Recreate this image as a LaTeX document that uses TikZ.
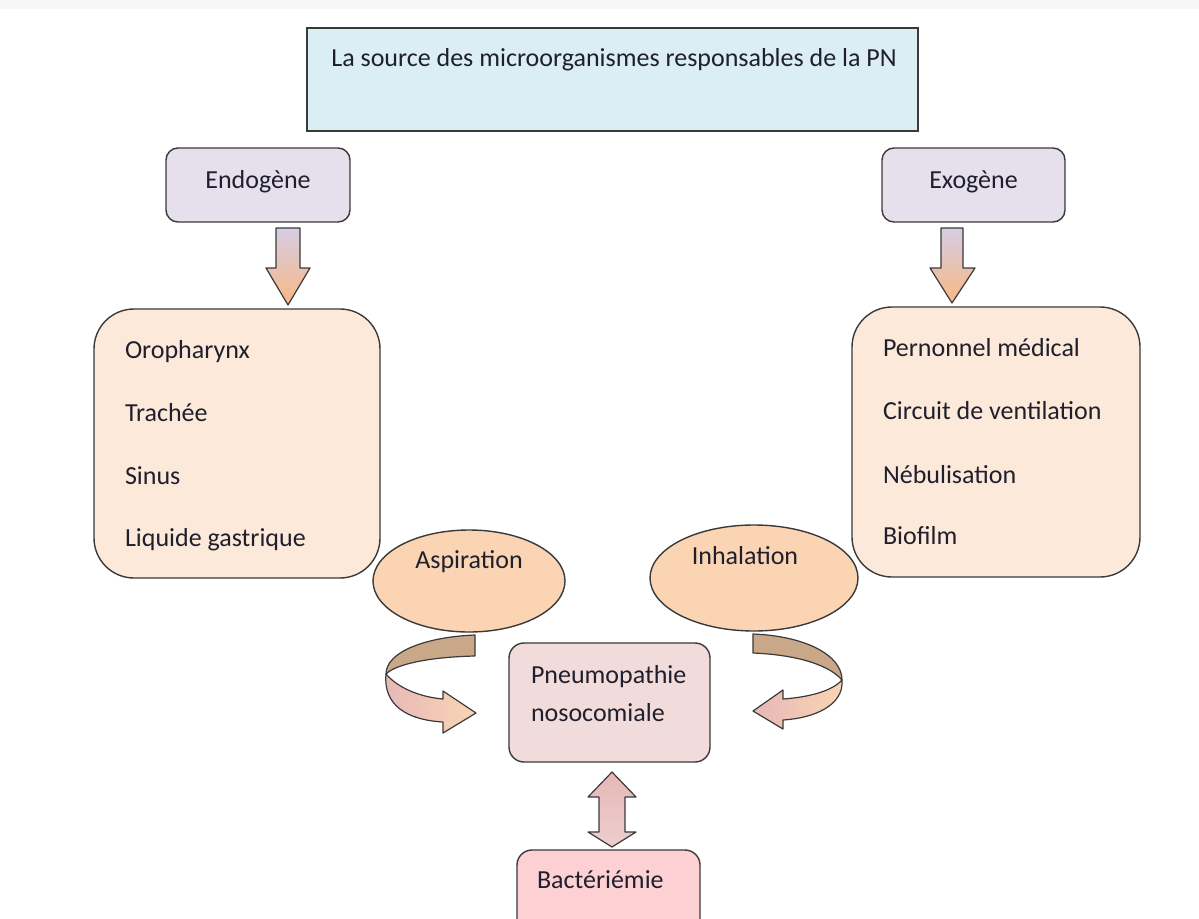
\documentclass[tikz,border=0pt]{standalone}
\usepackage{fontspec}
\setmainfont{Carlito}
\usetikzlibrary{shapes.geometric}
\definecolor{topfill}{HTML}{DAEEF3}
\definecolor{lav}{HTML}{E5E0EC}
\definecolor{peachl}{HTML}{FDE9D9}
\definecolor{peach}{HTML}{FBD4B4}
\definecolor{pinkl}{HTML}{F2DCDB}
\definecolor{pinkb}{HTML}{FDD0D3}
\definecolor{pinkar}{HTML}{E6B8B7}
\definecolor{brownar}{HTML}{C9A789}
\definecolor{orar}{HTML}{F9B884}
\definecolor{lavar}{HTML}{D6CDE3}
\definecolor{edge}{HTML}{3A3A3A}
\definecolor{ink}{HTML}{1F1F2E}
\begin{document}
\begin{tikzpicture}[x=1pt,y=-1pt,
  every node/.style={font=\fontsize{26}{30}\selectfont, text=ink, inner sep=0pt, outer sep=0pt},
  shp/.style={draw=edge, line width=1.4pt},
  sqbox/.style={shp, rectangle, fill=topfill},
  rbox/.style={shp, rectangle, rounded corners=#1},
  ell/.style={shp, ellipse, fill=peach},
  lt/.style={anchor=mid west, yshift=-5pt},
  ct/.style={anchor=mid, yshift=-5pt},
  blk/.style={draw=edge, line width=1.2pt, line join=round}
]
\useasboundingbox (0,0) rectangle (1199,918);
\fill[white] (0,0) rectangle (1199,918);
\fill[black!3] (0,0) rectangle (1199,9);
\begin{scope}
\clip (0,0) rectangle (1199,918);
% top
\node[sqbox, minimum width=611pt, minimum height=103pt] (src) at (612.5,79.5) {};
\node[ct] (srct) at (614,59) {La source des microorganismes responsables de la PN};
% endo / exo
\node[rbox=12pt, fill=lav, minimum width=184pt, minimum height=74pt] (endo) at (258,185) {};
\node[ct] (endot) at (258,181) {Endogène};
\node[rbox=12pt, fill=lav, minimum width=183pt, minimum height=74pt] (exo) at (973.5,185) {};
\node[ct] (exot) at (973.5,181) {Exogène};
% down arrows
\shade[top color=lavar, bottom color=orar, blk]
  (276,228) -- (300,228) -- (300,268) -- (310,268) -- (288,305) -- (266,268) -- (276,268) -- cycle;
\shade[top color=lavar, bottom color=orar, blk]
  (941,228) -- (963,228) -- (963,268) -- (975,268) -- (952,303) -- (930,268) -- (941,268) -- cycle;
% big boxes
\node[rbox=40pt, fill=peachl, minimum width=286pt, minimum height=269pt] (endol) at (237,443.5) {};
\node[lt] (e1) at (125,351) {Oropharynx};
\node[lt] (e2) at (125,414) {Trachée};
\node[lt] (e3) at (125,477) {Sinus};
\node[lt] (e4) at (125,539) {Liquide gastrique};
\node[rbox=40pt, fill=peachl, minimum width=288pt, minimum height=270pt] (exol) at (996,442) {};
\node[lt] (x1) at (883,349) {Pernonnel médical};
\node[lt] (x2) at (883,412) {Circuit de ventilation};
\node[lt] (x3) at (883,476) {Nébulisation};
\node[lt] (x4) at (883,537) {Biofilm};
% ellipses
\node[ell, minimum width=192pt, minimum height=102pt] (asp) at (469,581) {};
\node[ct] (aspt) at (469,561) {Aspiration};
\node[ell, minimum width=208pt, minimum height=106pt] (inh) at (754,578) {};
\node[ct] (inht) at (745,557) {Inhalation};
% pneumopathie
\node[rbox=15pt, fill=pinkl, minimum width=201pt, minimum height=119pt] (pn) at (609.5,702.5) {};
\node[lt] (pn1) at (531,676) {Pneumopathie};
\node[lt] (pn2) at (531,714) {nosocomiale};
% bacteriemie
\node[rbox=15pt, fill=pinkb, minimum width=183pt, minimum height=92pt] (bac) at (608.5,896) {};
\node[lt] (bact) at (537,881) {Bactériémie};
% double arrow
\shade[top color=pinkar, bottom color=pinkar!70, blk]
  (612,772) -- (636,797) -- (625,797) -- (625,832) -- (636,832) -- (612,847)
  -- (588,832) -- (599,832) -- (599,797) -- (588,797) -- cycle;
% curved arrow left
\fill[brownar, blk]
  (475,635) .. controls (425,637) and (386,652) .. (386,674)
  .. controls (396,664) and (430,657) .. (475,656) -- cycle;
\shade[left color=pinkar, right color=peach, blk]
  (386,674) .. controls (398,688) and (420,697) .. (443,699) -- (443,691) -- (476,713)
  -- (443,733) -- (443,722) .. controls (408,720) and (383,706) .. (386,674) -- cycle;
% curved arrow right
\fill[brownar, blk]
  (753,634) .. controls (805,636) and (842,655) .. (842,680)
  .. controls (830,666) and (800,655) .. (753,653) -- cycle;
\shade[left color=pinkar, right color=peach, blk]
  (842,680) .. controls (832,691) and (810,697) .. (783,699) -- (783,690) -- (753,711)
  -- (783,729) -- (783,720) .. controls (815,718) and (844,705) .. (842,680) -- cycle;
\end{scope}
\end{tikzpicture}
\end{document}
